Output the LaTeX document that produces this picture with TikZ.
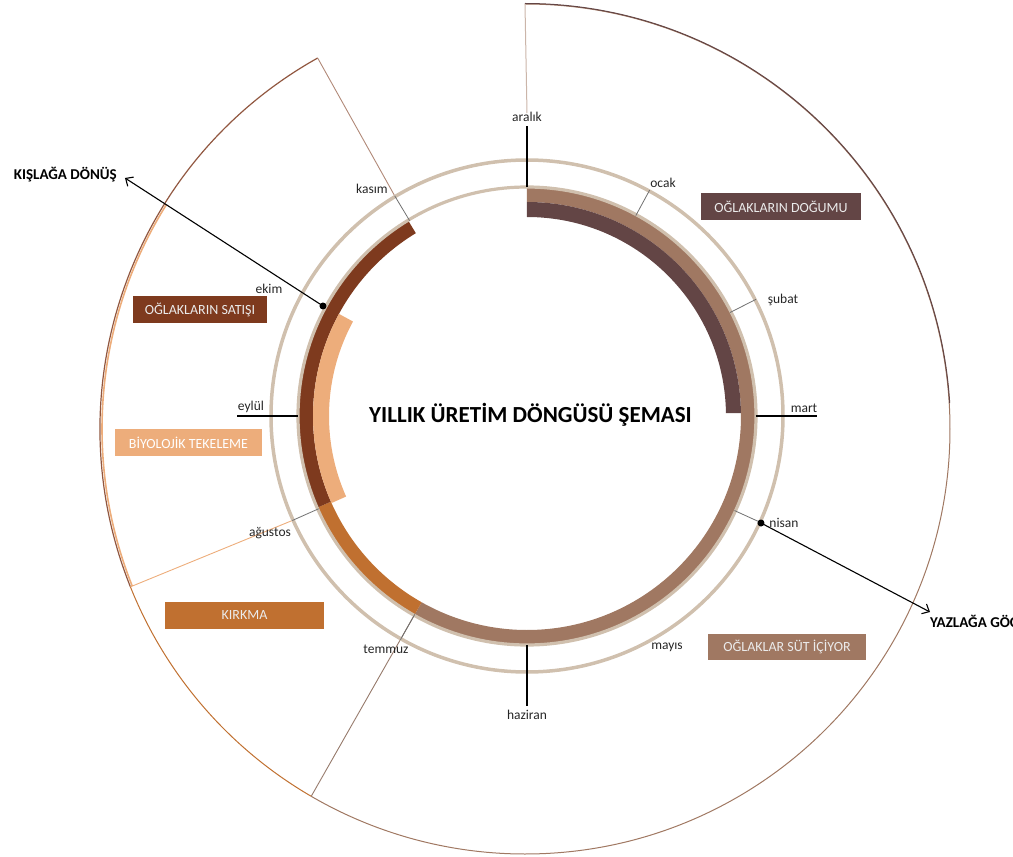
\documentclass[tikz,border=0pt]{standalone}
\usepackage{fontspec}
\setmainfont{Carlito}
\usepackage{tikz}
\usetikzlibrary{calc,arrows.meta}

\definecolor{dogum}{HTML}{634545}
\definecolor{sut}{HTML}{A07862}
\definecolor{kirkma}{HTML}{C07030}
\definecolor{satis}{HTML}{7E3A1E}
\definecolor{teke}{HTML}{EDAD7B}
\definecolor{halka}{HTML}{D0C0AE}
\definecolor{cizgi}{HTML}{707070}

% annular band: colour, start angle, end angle, inner radius, outer radius
\newcommand{\bant}[5]{\fill[#1] (#2:#4) arc[start angle=#2, end angle=#3, radius=#4] -- (#3:#5) arc[start angle=#3, end angle=#2, radius=#5] -- cycle;}

\tikzset{
    etiket/.style={font=\fontsize{13.5}{15}\selectfont, text=black!85, inner sep=1pt},
    kutu/.style={minimum height=27pt, inner sep=0pt, text=white!92!black, font=\fontsize{14}{16}\selectfont},
    nokta/.style={circle, fill=black, inner sep=0pt, minimum size=7pt},
    ok/.style={-{Straight Barb[length=6pt, width=11pt]}, line width=1.1pt},
    buyuk/.style={font=\fontsize{15}{17}\selectfont\bfseries}
}

\begin{document}
\begin{tikzpicture}[x=1pt, y=1pt]
    \useasboundingbox (-527,-441) rectangle (486,416);

    % Outer sectors
    \coordinate (o2) at (-2,-13);
    \draw[sut, line width=1] ($(o2)+(90:425)$) arc[start angle=90, end angle=-120.2, radius=425];
    \draw[dogum, line width=1] ($(o2)+(90:425.5)$) arc[start angle=90, end angle=3.5, radius=425.5];
    \draw[kirkma, line width=1] ($(o2)+(201.8:425)$) arc[start angle=201.8, end angle=239.8, radius=425];
    \draw[teke, line width=1.6] ($(o2)+(148:423)$) arc[start angle=148, end angle=201.8, radius=423];
    \draw[satis!85, line width=1.2] ($(o2)+(119.2:425)$) arc[start angle=119.2, end angle=201.8, radius=425];

    % Sector edges
    \draw[sut!55, line width=1] ($(o2)+(90:425)$) -- (0,303);
    \draw[satis!60, line width=0.9] ($(o2)+(119.2:425)$) -- (121:257);
    \draw[sut!70!gray, line width=0.9] ($(o2)+(239.8:425)$) -- (-119.5:226);
    \draw[teke, line width=0.9] ($(o2)+(201.8:425)$) -- (-156:257);

    % Bands of the year
    \bant{sut}{90}{-119.5}{214}{228}
    \bant{kirkma}{-119.5}{-156.4}{214}{228}
    \bant{satis}{203.6}{121.3}{214}{228}
    \bant{dogum}{90}{0.8}{199}{214}
    \bant{teke}{151.5}{204}{198}{214}

    % Guide circles
    \draw[halka, line width=3.2] (0,0) circle (229);
    \draw[halka, line width=3.5] (0,0) circle (256);

    % Month ticks
    \foreach \a in {61.5, 27, -24.5, -119.5, -156, 121} {
        \draw[cizgi, line width=0.8] (\a:228) -- (\a:257);
    }
    \foreach \a in {90, 0, -90, 180} {
        \draw[line width=2] (\a:229) -- (\a:290);
    }

    % Month names
    \foreach \ad/\x/\y/\metin in {aralik/0/299/aralık, ocak/136/233/ocak, subat/256/116/şubat,
        mart/277/8/mart, nisan/257/-107/nisan, mayis/140/-231/mayıs, haziran/0/-299/haziran,
        temmuz/-141/-233/temmuz, agustos/-257/-117/ağustos, eylul/-276/9/eylül,
        ekim/-258/127/ekim, kasim/-155/227/kasım} {
        \node[etiket] (\ad) at (\x,\y) {\metin};
    }

    % Activity boxes
    \node[kutu, fill=dogum, minimum width=160pt] (dogumkutu) at (254,209.5) {OĞLAKLARIN DOĞUMU};
    \node[kutu, fill=satis, minimum width=134pt] (satiskutu) at (-327,106.5) {OĞLAKLARIN SATIŞI};
    \node[kutu, fill=teke, minimum width=147pt, text=white] (tekekutu) at (-338.5,-26.5) {BİYOLOJİK TEKELEME};
    \node[kutu, fill=kirkma, minimum width=159pt] (kirkmakutu) at (-282.5,-199.5) {KIRKMA};
    \node[kutu, fill=sut, minimum width=158pt, minimum height=26pt] (sutkutu) at (260,-231) {OĞLAKLAR SÜT İÇİYOR};

    % Moves between pastures
    \node[nokta] (ekimnokta) at (-204,110) {};
    \node[nokta] (nisannokta) at (234,-107) {};
    \node[buyuk, anchor=east, inner sep=0pt] (kislak) at (-410,241) {KIŞLAĞA DÖNÜŞ};
    \node[buyuk, anchor=west, inner sep=0pt] (yayla) at (403,-207) {YAZLAĞA GÖÇ};
    \coordinate (kisucu) at (-402,238);
    \coordinate (yayucu) at (403,-196);
    \draw[ok] (ekimnokta.center) -- (kisucu);
    \draw[ok] (nisannokta.center) -- (yayucu);

    % Title
    \node[font=\fontsize{23}{25}\selectfont\bfseries] (baslik) at (3.5,1) {YILLIK ÜRETİM DÖNGÜSÜ ŞEMASI};
\end{tikzpicture}
\end{document}
